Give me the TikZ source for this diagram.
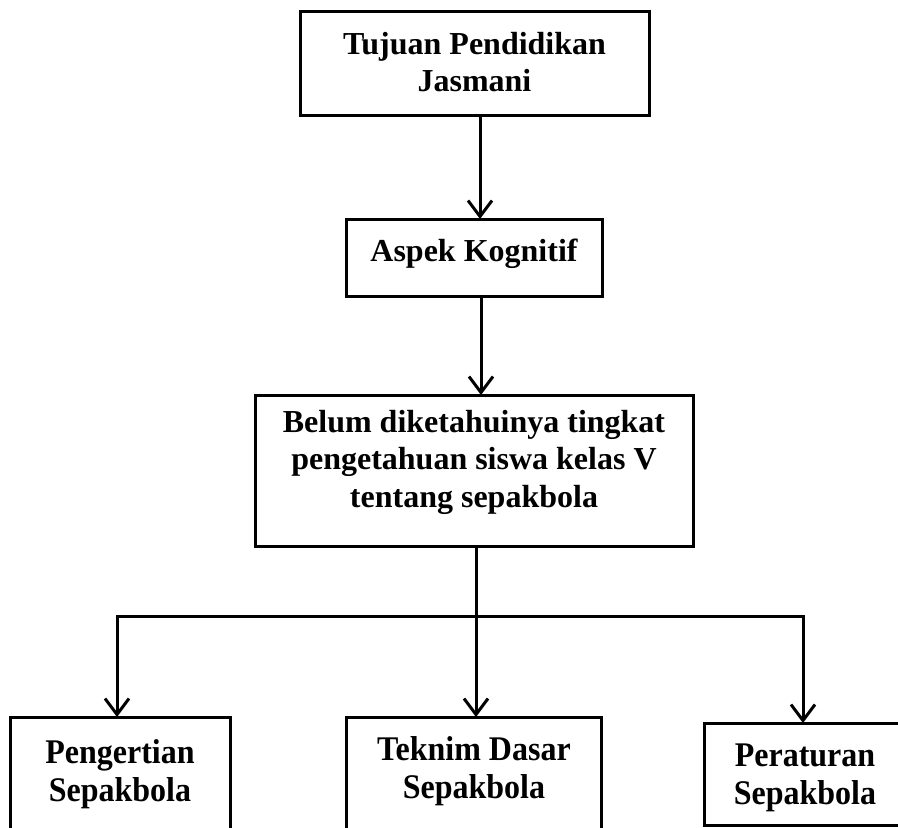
\documentclass[tikz,border=0pt]{standalone}
\usepackage{fontspec}
\setmainfont{Liberation Serif}
\usetikzlibrary{arrows.meta}
\tikzset{
  box/.style={draw=black, line width=3pt, rectangle, inner sep=0pt, outer sep=0pt, anchor=north west},
  lbl/.style={anchor=base, inner sep=0pt, font=\fontsize{32}{37.5}\selectfont\bfseries},
  lblb/.style={anchor=base, inner sep=0pt, font=\fontsize{32}{36}\selectfont\bfseries},
  arr/.style={line width=3pt, -{Straight Barb[length=16pt,width=24pt]}},
  conn/.style={line width=3pt},
}
\newcommand{\lines}[1]{\begin{tabular}[t]{@{}c@{}}#1\end{tabular}}
\newcommand{\tall}[1]{\scalebox{1}[1.08]{\lines{#1}}}
\begin{document}
\begin{tikzpicture}[x=1pt,y=-1pt]
\clip (0,0) rectangle (898,828);
\fill[white] (0,0) rectangle (898,828);
% boxes
\node[box, minimum width=349pt, minimum height=104pt] (top) at (300,11) {};
\node[box, minimum width=256pt, minimum height=77pt] (aspek) at (346,219) {};
\node[box, minimum width=438pt, minimum height=151pt] (belum) at (255,395) {};
\node[box, minimum width=220pt, minimum height=150pt] (b1) at (10,717) {};
\node[box, minimum width=255pt, minimum height=150pt] (b2) at (346,717) {};
\node[box, minimum width=216pt, minimum height=102pt] (b3) at (704,723) {};
% labels
\node[lbl] (ttop) at (474.5,54) {\lines{Tujuan Pendidikan\\Jasmani}};
\node[lbl] (taspek) at (474,261) {Aspek Kognitif};
\node[lbl] (tbelum) at (474,432) {\lines{Belum diketahuinya tingkat\\pengetahuan siswa kelas V\\tentang sepakbola}};
\node[lblb] (tb1) at (120,763) {\tall{Pengertian\\Sepakbola}};
\node[lblb] (tb2) at (474,760) {\tall{Teknim Dasar\\Sepakbola}};
\node[lblb] (tb3) at (805,766) {\tall{Peraturan\\Sepakbola}};
% connectors
\draw[arr] ([xshift=5.5pt]top.south) -- ([xshift=5.5pt]top.south |- aspek.north);
\draw[arr] ([xshift=7pt]aspek.south) -- ([xshift=7pt]aspek.south |- belum.north);
\coordinate (split) at (476,616);
\draw[conn] (split |- belum.south) -- (split);
\draw[arr, line join=miter] (split) -| ([xshift=-3pt]b1.north);
\draw[arr] (split) -- (split |- b2.north);
\draw[arr, line join=miter] (split) -| ([xshift=-9pt]b3.north);
\end{tikzpicture}
\end{document}
